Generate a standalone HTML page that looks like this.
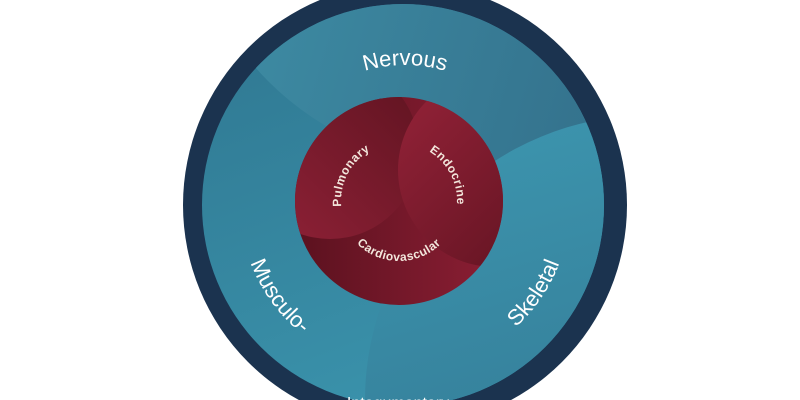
<!DOCTYPE html>
<html><head><style>html,body{margin:0;padding:0;background:#fff;width:800px;height:400px;overflow:hidden}svg{display:block}</style></head>
<body>
<svg width="800" height="400" viewBox="0 0 800 400" xmlns="http://www.w3.org/2000/svg" font-family="'Liberation Sans', 'DejaVu Sans', sans-serif">
<defs>
<clipPath id="teal"><circle cx="403" cy="205" r="201"/></clipPath>
<clipPath id="red"><circle cx="399" cy="201" r="104"/></clipPath>
<linearGradient id="gN" x1="0" y1="0" x2="1" y2="0.3"><stop offset="0" stop-color="#4196ad"/><stop offset="1" stop-color="#336f8a"/></linearGradient>
<linearGradient id="gS" x1="0" y1="0" x2="0.3" y2="1"><stop offset="0" stop-color="#3d97b0"/><stop offset="1" stop-color="#30708c"/></linearGradient>
<linearGradient id="gM" x1="0" y1="0" x2="0.4" y2="1"><stop offset="0" stop-color="#2f7690"/><stop offset="1" stop-color="#3a92ab"/></linearGradient>
<linearGradient id="gC" x1="0" y1="0" x2="1" y2="0"><stop offset="0" stop-color="#5a111e"/><stop offset="1" stop-color="#8e1f35"/></linearGradient>
<linearGradient id="gP" x1="0" y1="1" x2="1" y2="0"><stop offset="0" stop-color="#922238"/><stop offset="1" stop-color="#5e1320"/></linearGradient>
<linearGradient id="gE" x1="0" y1="0" x2="1" y2="1"><stop offset="0" stop-color="#962339"/><stop offset="1" stop-color="#5a111e"/></linearGradient>
<path id="pN" d="M 265 205 A 138 138 0 0 1 545 205"/>
<path id="pL" d="M 405 40 A 165 165 0 0 0 405 370"/>
<path id="pR" d="M 405 370 A 165 165 0 0 0 405 40"/>
<path id="pP" d="M 348.8 230 A 58 58 0 0 1 393.9 143.2"/>
<path id="pE" d="M 399 143 A 58 58 0 0 1 446.5 234.3"/>
<path id="pCv" d="M 342.6 221.5 A 60 60 0 0 0 455.4 221.5"/>
</defs>
<circle cx="405" cy="205" r="222" fill="#1b334f"/>
<g clip-path="url(#teal)">
<rect x="180" y="0" width="450" height="420" fill="url(#gM)"/>
<circle cx="470" cy="-120" r="285" fill="url(#gN)"/>
<circle cx="650" cy="400" r="285" fill="url(#gS)"/>
</g>
<g clip-path="url(#red)">
<rect x="290" y="90" width="220" height="220" fill="url(#gC)"/>
<circle cx="330" cy="150" r="89" fill="url(#gP)"/>
<circle cx="495" cy="170" r="97" fill="url(#gE)"/>
</g>
<g fill="#fff" font-size="22">
<text><textPath href="#pN" startOffset="50%" text-anchor="middle">Nervous</textPath></text>
<text><textPath href="#pL" startOffset="70%" text-anchor="middle">Musculo-</textPath></text>
<text><textPath href="#pR" startOffset="31%" text-anchor="middle">Skeletal</textPath></text>
</g>
<g fill="#f3e6dc" font-size="12" font-weight="bold" letter-spacing="0.5">
<text><textPath href="#pP" startOffset="50%" text-anchor="middle">Pulmonary</textPath></text>
<text><textPath href="#pE" startOffset="50%" text-anchor="middle">Endocrine</textPath></text>
<text><textPath href="#pCv" startOffset="50%" text-anchor="middle">Cardiovascular</textPath></text>
</g>
<text x="398" y="408" fill="#fff" font-size="16" text-anchor="middle">Integumentary</text>
</svg>
</body></html>
